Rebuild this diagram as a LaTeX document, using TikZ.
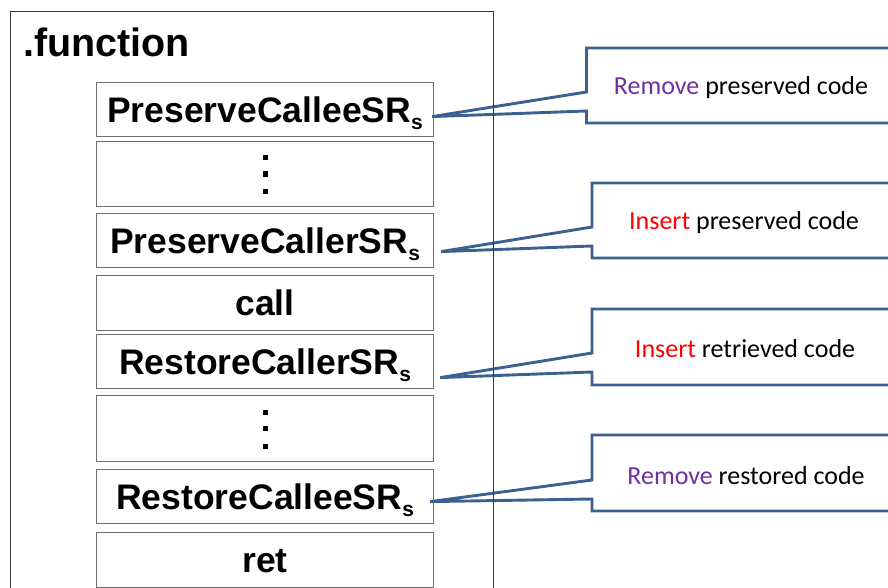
\documentclass[tikz,border=0pt]{standalone}
\usepackage{fontspec}
\setmainfont{Liberation Sans}
\newfontfamily\calibri{Carlito}
\definecolor{boxgray}{HTML}{6E6E6E}
\definecolor{outergray}{HTML}{3A3A3A}
\definecolor{calloutblue}{HTML}{3B6190}
\definecolor{rmpurple}{HTML}{7030A0}
\definecolor{insred}{HTML}{FF0000}
\newcommand{\subs}{\raisebox{-7pt}{\fontsize{21}{21}\selectfont s}}
\begin{document}
\begin{tikzpicture}[x=1pt,y=-1pt,
  codebox/.style={draw=boxgray, line width=1.2pt, minimum width=337pt, inner sep=0pt,
    anchor=north west, text height=25pt, text depth=0pt,
    font=\bfseries\fontsize{35.5}{40}\selectfont},
  dotsbox/.style={codebox},
  sqdot/.style={fill=black},
  callout/.style={draw=calloutblue, line width=2.9pt, fill=white, line join=miter},
  note/.style={font=\calibri\fontsize{26}{30}\selectfont, inner sep=0pt}]
\useasboundingbox (0,0) rectangle (888,588);
\clip (0,0) rectangle (888,588);
\fill[white] (0,0) rectangle (888,588);

% code boxes
\node[codebox, minimum height=54pt] (b1) at (96,82) {PreserveCalleeSR\subs};
\node[dotsbox, minimum height=65pt] (b2) at (96,141) {};
\node[codebox, minimum height=54pt] (b3) at (96,213) {PreserveCallerSR\subs};
\node[codebox, minimum height=55pt] (b4) at (96,275) {call};
\node[codebox, minimum height=54pt] (b5) at (96,334) {RestoreCallerSR\subs};
\node[dotsbox, minimum height=66pt] (b6) at (96,395) {};
\node[codebox, minimum height=54pt] (b7) at (96,469) {RestoreCalleeSR\subs};
\node[codebox, minimum height=55pt] (b8) at (96,532) {ret};

% vertical ellipsis dots
\foreach \b in {b2,b6}{
  \foreach \dy in {-16.5,0,17.5}{
    \fill[sqdot] ([shift={(-2.6,\dy-2.6)}]\b.center) rectangle ([shift={(2.6,\dy+2.6)}]\b.center);
  }
}

% callout tips
\coordinate (t1) at ([shift={(-2,7)}]b1.east);
\coordinate (t2) at ([shift={(7,11)}]b3.east);
\coordinate (t3) at ([shift={(6,16)}]b5.east);
\coordinate (t4) at ([shift={(-4,5)}]b7.east);

% callouts
\draw[callout] (586.5,48) -- (950,48) -- (950,123) -- (586.5,123) -- (586.5,111) -- (t1) -- (586.5,92) -- cycle;
\node[note] (n1) at (741,88) {\textcolor{rmpurple}{Remove} preserved code};

\draw[callout] (592,183) -- (950,183) -- (950,258) -- (592,258) -- (592,246) -- (t2) -- (592,227) -- cycle;
\node[note] (n2) at (744,223) {\textcolor{insred}{Insert} preserved code};

\draw[callout] (592,309) -- (950,309) -- (950,385) -- (592,385) -- (592,372) -- (t3) -- (592,353) -- cycle;
\node[note] (n3) at (745,349) {\textcolor{insred}{Insert} retrieved code};

\draw[callout] (592,435) -- (950,435) -- (950,511) -- (592,511) -- (592,499) -- (t4) -- (592,480) -- cycle;
\node[note] (n4) at (746,476) {\textcolor{rmpurple}{Remove} restored code};

% outer function frame
\draw[outergray, line width=1pt] (10,620) -- (10,12) -- (493,12) -- (493,620);
\node[font=\bfseries\fontsize{39.5}{44}\selectfont, anchor=base west, inner sep=0pt] (fn) at (23,57) {.function};
\end{tikzpicture}
\end{document}
